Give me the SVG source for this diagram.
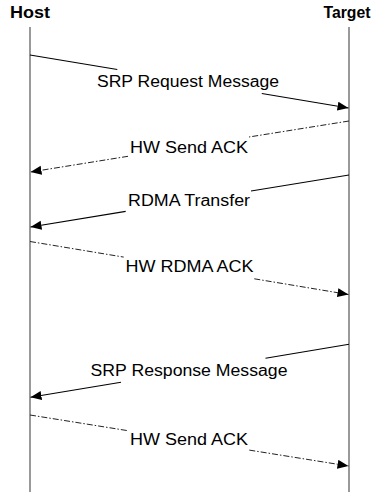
<svg xmlns="http://www.w3.org/2000/svg" width="376" height="492" viewBox="0 0 376 492">
<style>
.life{stroke:#808080;stroke-width:1.6;fill:none}
.hdr{font-family:"Liberation Sans",Arial,sans-serif;font-weight:bold;font-size:17px;fill:#000;text-anchor:middle}
.lbl{font-family:"Liberation Sans",Arial,sans-serif;font-size:16px;fill:#000;text-anchor:middle}
.msg{stroke:#000;stroke-width:1.1;fill:none}
.ack{stroke:#222;stroke-width:1;fill:none;stroke-dasharray:6 2 1.5 2}
</style>
<defs>
<marker id="ah" markerUnits="userSpaceOnUse" markerWidth="12" markerHeight="10" refX="11" refY="4.5" orient="auto">
<path d="M0,0 L11,4.5 L0,9 z" fill="#000"/>
</marker>
</defs>
<g id="host">
<text class="hdr" x="30" y="18" textLength="40" lengthAdjust="spacingAndGlyphs">Host</text>
<line class="life" x1="30" y1="27" x2="30" y2="492"/>
</g>
<g id="target">
<text class="hdr" x="347" y="18" textLength="47" lengthAdjust="spacingAndGlyphs">Target</text>
<line class="life" x1="349" y1="27" x2="349" y2="492"/>
</g>
<g id="connectors">
<g id="m1">
<polyline class="msg" points="30,55 117.3,69.5"/>
<polyline class="msg" points="261.8,93.5 348.5,108" marker-end="url(#ah)"/>
<text class="lbl" x="188" y="87" textLength="182" lengthAdjust="spacingAndGlyphs">SRP Request Message</text>
</g>
<g id="m2">
<polyline class="ack" points="349,121 249,137"/>
<polyline class="ack" points="128,156.3 30.5,172" marker-end="url(#ah)"/>
<text class="lbl" x="189" y="152.7" textLength="118" lengthAdjust="spacingAndGlyphs">HW Send ACK</text>
</g>
<g id="m3">
<polyline class="msg" points="349,175 251,191"/>
<polyline class="msg" points="125.7,211.4 30.5,227" marker-end="url(#ah)"/>
<text class="lbl" x="189" y="205.7" textLength="122" lengthAdjust="spacingAndGlyphs">RDMA Transfer</text>
</g>
<g id="m4">
<polyline class="ack" points="30,241.5 123.7,257.1"/>
<polyline class="ack" points="254.3,278.8 348.5,294.5" marker-end="url(#ah)"/>
<text class="lbl" x="189.5" y="272.3" textLength="128" lengthAdjust="spacingAndGlyphs">HW RDMA ACK</text>
</g>
<g id="m5">
<polyline class="msg" points="349,344.3 265.5,358.2"/>
<polyline class="msg" points="121,382.2 30.5,397.3" marker-end="url(#ah)"/>
<text class="lbl" x="189" y="376" textLength="197" lengthAdjust="spacingAndGlyphs">SRP Response Message</text>
</g>
<g id="m6">
<polyline class="ack" points="30,415 128,430.7"/>
<polyline class="ack" points="249.3,450.1 348.5,466" marker-end="url(#ah)"/>
<text class="lbl" x="189" y="445" textLength="118" lengthAdjust="spacingAndGlyphs">HW Send ACK</text>
</g>
</g>
</svg>
